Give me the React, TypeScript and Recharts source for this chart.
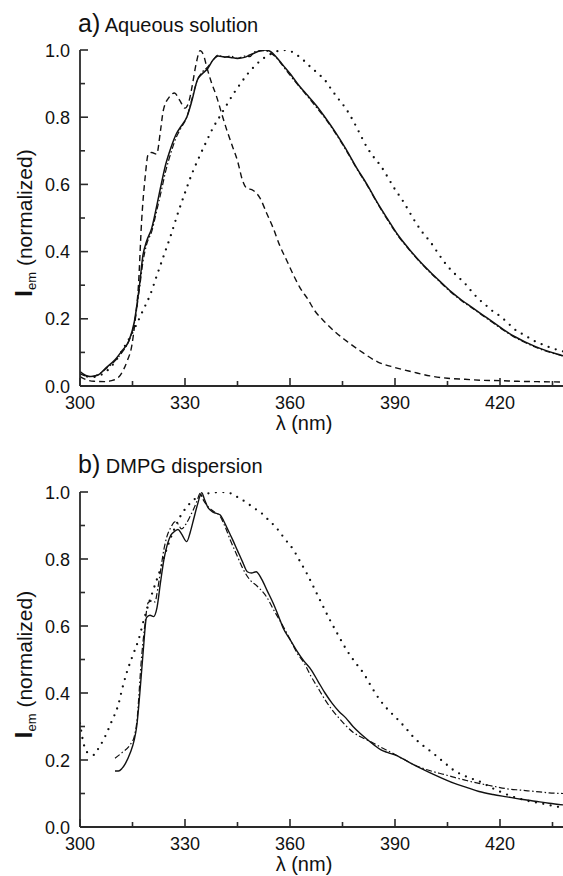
import React from 'react'
import { LineChart, Line, XAxis, YAxis } from 'recharts'

// wavelength ticks (nm) and intensity ticks
const xTicks = [300, 315, 330, 345, 360, 375, 390, 405, 420, 435]
const yTicks = [0, 0.1, 0.2, 0.3, 0.4, 0.5, 0.6, 0.7, 0.8, 0.9, 1.0]

// a) Aqueous solution
const aSolidX = [300, 301.5, 303, 305, 307.5, 310, 312, 314, 315.5, 317, 318, 319, 320.5, 322, 323, 324.5, 326, 327.5, 329, 330.5, 332, 333.5, 335, 336.5, 338, 339.5, 341, 343, 345, 347, 348.5, 350, 351.5, 353, 354.5, 356, 358, 360, 362.5, 365, 367.5, 370, 373, 376, 379, 382, 385, 388, 391, 394, 397, 400, 403, 406, 409, 412, 415, 418, 421, 424, 427, 430, 433, 436, 438]
const aSolidY = [0.043, 0.032, 0.028, 0.032, 0.055, 0.078, 0.105, 0.135, 0.19, 0.3, 0.39, 0.43, 0.47, 0.54, 0.59, 0.66, 0.71, 0.75, 0.775, 0.8, 0.85, 0.91, 0.93, 0.945, 0.97, 0.982, 0.98, 0.978, 0.975, 0.978, 0.985, 0.992, 0.998, 1.0, 0.995, 0.98, 0.955, 0.93, 0.895, 0.865, 0.835, 0.8, 0.755, 0.705, 0.65, 0.6, 0.545, 0.495, 0.447, 0.408, 0.372, 0.34, 0.31, 0.281, 0.256, 0.234, 0.212, 0.19, 0.168, 0.148, 0.132, 0.118, 0.106, 0.096, 0.09]
const aDashDotY = [0.036, 0.03, 0.028, 0.033, 0.052, 0.075, 0.1, 0.135, 0.185, 0.29, 0.37, 0.42, 0.46, 0.525, 0.57, 0.64, 0.695, 0.74, 0.77, 0.8, 0.855, 0.91, 0.935, 0.95, 0.97, 0.985, 0.978, 0.982, 0.975, 0.982, 0.98, 0.995, 0.997, 0.998, 0.99, 0.978, 0.952, 0.925, 0.893, 0.862, 0.83, 0.797, 0.752, 0.702, 0.648, 0.598, 0.543, 0.492, 0.445, 0.406, 0.37, 0.338, 0.308, 0.279, 0.254, 0.232, 0.21, 0.188, 0.166, 0.146, 0.13, 0.116, 0.104, 0.095, 0.089]
const aDashedX = [300, 302, 304, 307, 309, 311, 312.5, 313.5, 314.8, 315.7, 316.7, 317.6, 318.6, 319.5, 320.5, 321.9, 323, 323.8, 325.5, 327, 328.5, 330, 331.2, 332, 333.2, 334.3, 335.3, 336.2, 337.5, 339, 340.5, 342, 343.5, 345, 346.5, 347.5, 349.5, 351.4, 353.3, 355.2, 357, 359, 361, 363, 365, 367, 370, 373, 376, 380, 385, 390, 395, 400, 405, 410, 415, 420, 425, 430, 438]
const aDashedY = [0.028, 0.018, 0.014, 0.013, 0.016, 0.026, 0.05, 0.075, 0.12, 0.19, 0.3, 0.49, 0.62, 0.69, 0.695, 0.69, 0.76, 0.82, 0.86, 0.872, 0.85, 0.827, 0.85, 0.89, 0.96, 0.998, 0.985, 0.95, 0.905, 0.862, 0.81, 0.76, 0.715, 0.67, 0.61, 0.59, 0.582, 0.56, 0.515, 0.47, 0.42, 0.375, 0.33, 0.29, 0.26, 0.225, 0.19, 0.16, 0.135, 0.105, 0.072, 0.055, 0.042, 0.03, 0.023, 0.02, 0.017, 0.016, 0.014, 0.013, 0.012]
const aDottedX = [300, 302, 304, 306, 308, 310, 312, 314, 316, 318, 320, 322, 324, 326, 328, 330, 332, 334, 336, 338, 340, 342, 344, 346, 348, 350, 352, 354, 356, 358, 360, 362, 364, 366, 368, 370, 372, 374, 376, 378, 380, 382, 384, 386, 388, 390, 392, 394, 396, 398, 400, 402, 404, 406, 408, 410, 412, 414, 416, 418, 420, 422, 424, 426, 428, 430, 432, 434, 436, 438]
const aDottedY = [0.035, 0.028, 0.027, 0.033, 0.048, 0.072, 0.105, 0.14, 0.18, 0.225, 0.27, 0.33, 0.39, 0.45, 0.515, 0.575, 0.632, 0.68, 0.725, 0.768, 0.803, 0.838, 0.872, 0.902, 0.93, 0.953, 0.972, 0.985, 0.995, 1.0, 0.997, 0.985, 0.968, 0.948, 0.93, 0.91, 0.88, 0.852, 0.825, 0.79, 0.75, 0.71, 0.68, 0.654, 0.62, 0.585, 0.555, 0.52, 0.485, 0.455, 0.43, 0.4, 0.37, 0.345, 0.325, 0.305, 0.28, 0.258, 0.24, 0.222, 0.208, 0.19, 0.17, 0.157, 0.145, 0.133, 0.124, 0.116, 0.109, 0.103]

// b) DMPG dispersion
const bSolidX = [310, 311, 312, 313, 314.3, 315.5, 316.2, 317.1, 318.1, 319, 320, 321, 322, 323, 324, 325, 326, 327, 328, 329, 330.5, 331.5, 332.5, 333.5, 334.8, 335.5, 336.5, 338, 340, 341, 342, 343.5, 345, 346.5, 347.8, 349, 350.3, 351.9, 353.5, 355.2, 356.7, 358, 360, 362, 364, 366, 368, 370, 372, 374, 376, 378, 380, 382, 384, 386, 388, 390, 392, 395, 398, 401, 404, 407, 410, 414, 418, 422, 426, 430, 434, 438]
const bSolidY = [0.167, 0.167, 0.175, 0.19, 0.22, 0.26, 0.3, 0.4, 0.53, 0.625, 0.632, 0.628, 0.655, 0.73, 0.8, 0.845, 0.872, 0.882, 0.888, 0.875, 0.852, 0.88, 0.92, 0.96, 0.998, 0.98, 0.955, 0.94, 0.932, 0.915, 0.893, 0.86, 0.825, 0.79, 0.762, 0.758, 0.762, 0.74, 0.705, 0.668, 0.63, 0.595, 0.56, 0.525, 0.495, 0.47, 0.435, 0.4, 0.37, 0.345, 0.325, 0.3, 0.28, 0.262, 0.245, 0.23, 0.222, 0.215, 0.205, 0.188, 0.172, 0.157, 0.143, 0.13, 0.12, 0.106, 0.097, 0.09, 0.083, 0.077, 0.071, 0.066]
const bDashDotX = [310, 312, 314.3, 315.5, 316.2, 317.6, 318.5, 319.5, 320.5, 321.4, 322.2, 322.9, 324, 324.8, 326, 327.1, 328, 329, 330.3, 331.4, 332.5, 333.5, 334.3, 335.3, 336.7, 338.5, 340, 341.5, 343, 344.8, 346.5, 348.6, 350.5, 353.3, 355.5, 358.1, 360, 362, 364, 366, 368, 370, 372, 374, 376, 378, 380, 383, 386, 389, 392, 395, 398, 401, 404, 407, 410, 414, 418, 422, 426, 430, 434, 438]
const bDashDotY = [0.205, 0.222, 0.245, 0.27, 0.31, 0.508, 0.6, 0.67, 0.675, 0.672, 0.71, 0.757, 0.83, 0.866, 0.895, 0.911, 0.905, 0.89, 0.905, 0.926, 0.95, 0.975, 0.996, 0.975, 0.955, 0.94, 0.928, 0.895, 0.855, 0.812, 0.772, 0.737, 0.72, 0.687, 0.645, 0.598, 0.56, 0.52, 0.49, 0.45, 0.415, 0.38, 0.35, 0.325, 0.302, 0.283, 0.27, 0.255, 0.238, 0.222, 0.205, 0.188, 0.175, 0.165, 0.157, 0.148, 0.14, 0.13, 0.122, 0.114, 0.11, 0.106, 0.102, 0.1]
const bDottedX = [300, 301, 302.4, 304, 305, 306.7, 309, 311, 312, 313.3, 315, 316.7, 318.3, 320, 321.5, 322.9, 324.3, 325.7, 327.2, 328.6, 330.5, 332.4, 334.3, 336.2, 338, 340, 342, 344, 345.7, 348, 350, 351.4, 353.5, 356.2, 358.5, 361, 363, 364.8, 366.7, 369, 371.4, 373.8, 376.2, 378.5, 381, 383.3, 385.7, 388, 390.5, 393, 395.2, 398, 400.9, 404, 406.7, 410, 414.3, 418, 423.8, 428, 432, 436.7, 438]
const bDottedY = [0.31, 0.25, 0.22, 0.215, 0.23, 0.26, 0.314, 0.367, 0.41, 0.459, 0.51, 0.558, 0.62, 0.678, 0.725, 0.767, 0.815, 0.857, 0.895, 0.926, 0.955, 0.976, 0.988, 0.995, 0.998, 1.0, 1.0, 0.99, 0.981, 0.965, 0.95, 0.941, 0.92, 0.892, 0.86, 0.827, 0.79, 0.757, 0.717, 0.668, 0.618, 0.572, 0.528, 0.493, 0.459, 0.418, 0.379, 0.35, 0.324, 0.296, 0.269, 0.243, 0.22, 0.193, 0.17, 0.152, 0.135, 0.115, 0.09, 0.078, 0.07, 0.06, 0.058]

const pts = (xs: number[], ys: number[]) => xs.map((x, i) => ({ x, y: ys[i] }))

const FONT = '"Liberation Sans", Arial, Helvetica, sans-serif'
const AXIS = '#2a2a2a'
const INK = '#111'

// ticks point inward; major ones are longer and carry the label
const XTick = (props: any) => {
  const { x, y, payload } = props
  const major = payload.value % 30 === 0
  return (
    <g>
      <line x1={x} x2={x} y1={y} y2={y - (major ? 8 : 5)} stroke={AXIS} strokeWidth={1.6} />
      {major && (
        <text x={x} y={y + 23} textAnchor="middle" fontSize={18} fontFamily={FONT} fill={INK}>
          {payload.value}
        </text>
      )}
    </g>
  )
}

const TopTick = (props: any) => {
  const { x, y, payload } = props
  const major = payload.value % 30 === 0
  return <line x1={x} x2={x} y1={y} y2={y + (major ? 8 : 5)} stroke={AXIS} strokeWidth={1.6} />
}

const YTick = (props: any) => {
  const { x, y, payload } = props
  const major = Math.round(payload.value * 10) % 2 === 0
  return (
    <g>
      <line x1={x} x2={x + (major ? 8 : 5)} y1={y} y2={y} stroke={AXIS} strokeWidth={1.6} />
      {major && (
        <text x={x - 10} y={y + 6.5} textAnchor="end" fontSize={18} fontFamily={FONT} fill={INK}>
          {payload.value.toFixed(1)}
        </text>
      )}
    </g>
  )
}

const yLabel = (props: any) => {
  const vb = props.viewBox || { x: 0, y: 50, width: 80, height: 336 }
  const cx = 32
  const cy = vb.y + vb.height / 2 + 5
  return (
    <text
      x={cx}
      y={cy}
      transform={`rotate(-90 ${cx} ${cy})`}
      textAnchor="middle"
      fontFamily={FONT}
      fill={INK}
    >
      <tspan fontSize={24} fontWeight="bold">I</tspan>
      <tspan fontSize={13} dy={4}>em</tspan>
      <tspan fontSize={21} dy={-4}> (normalized)</tspan>
    </text>
  )
}

const xLabel = (props: any) => {
  const vb = props.viewBox || { x: 80, y: 386, width: 483, height: 54 }
  return (
    <text x={304} y={vb.y + 44} textAnchor="middle" fontSize={20} fontFamily={FONT} fill={INK}>
      λ (nm)
    </text>
  )
}

type Series = { data: { x: number; y: number }[]; dash?: string; width: number; cap?: 'round' | 'butt' }

function Panel({ series, top, height, marginTop, axisHeight }: { series: Series[]; top: number; height: number; marginTop: number; axisHeight: number }) {
  return (
    <div style={{ position: 'absolute', left: 0, top }}>
      <LineChart width={563} height={height} margin={{ top: marginTop, right: 0, bottom: 0, left: 0 }}>
        <XAxis
          dataKey="x"
          type="number"
          domain={[300, 438]}
          allowDataOverflow
          ticks={xTicks}
          interval={0}
          tickSize={0}
          tickMargin={0}
          tickLine={false}
          tick={XTick}
          height={axisHeight}
          axisLine={{ stroke: AXIS, strokeWidth: 1.8 }}
          label={{ content: xLabel }}
        />
        <XAxis
          xAxisId="top"
          orientation="top"
          dataKey="x"
          type="number"
          domain={[300, 438]}
          allowDataOverflow
          ticks={xTicks}
          interval={0}
          tickSize={0}
          tickMargin={0}
          tickLine={false}
          tick={TopTick}
          height={0}
          axisLine={{ stroke: AXIS, strokeWidth: 1.8 }}
        />
        <YAxis
          type="number"
          domain={[0, 1]}
          allowDataOverflow
          ticks={yTicks}
          interval={0}
          tickSize={0}
          tickMargin={0}
          tickLine={false}
          tick={YTick}
          width={80}
          axisLine={{ stroke: AXIS, strokeWidth: 1.8 }}
          label={{ content: yLabel }}
        />
        {series.map((s, i) => (
          <Line
            key={i}
            data={s.data}
            dataKey="y"
            type="monotone"
            stroke={INK}
            strokeWidth={s.width}
            strokeDasharray={s.dash}
            strokeLinecap={s.cap || 'butt'}
            dot={false}
            activeDot={false}
            isAnimationActive={false}
          />
        ))}
      </LineChart>
    </div>
  )
}

const DOTS = '0 7.5'
const DASH = '6 4'
const DASHDOT = '6 2.5 1.5 2.5'

export default function App() {
  const seriesA: Series[] = [
    { data: pts(aDottedX, aDottedY), dash: DOTS, width: 2.3, cap: 'round' },
    { data: pts(aDashedX, aDashedY), dash: DASH, width: 1.4 },
    { data: pts(aSolidX, aDashDotY), dash: DASHDOT, width: 1.2 },
    { data: pts(aSolidX, aSolidY), width: 1.5 },
  ]
  const seriesB: Series[] = [
    { data: pts(bDottedX, bDottedY), dash: DOTS, width: 2.3, cap: 'round' },
    { data: pts(bDashDotX, bDashDotY), dash: DASHDOT, width: 1.2 },
    { data: pts(bSolidX, bSolidY), width: 1.4 },
  ]
  return (
    <div style={{ position: 'absolute', left: 0, top: 0, width: 563, height: 876, overflow: 'hidden', background: '#fff' }}>
      <Panel series={seriesA} top={0} height={440} marginTop={50} axisHeight={54} />
      <Panel series={seriesB} top={440} height={436} marginTop={52} axisHeight={49} />
      <svg width={563} height={876} style={{ position: 'absolute', left: 0, top: 0, pointerEvents: 'none' }}>
        <text x={78} y={32} fontFamily={FONT} fill={INK}>
          <tspan fontSize={25}>a)</tspan>
          <tspan fontSize={20}> Aqueous solution</tspan>
        </text>
        <text x={78} y={473} fontFamily={FONT} fill={INK}>
          <tspan fontSize={25}>b)</tspan>
          <tspan fontSize={20}> DMPG dispersion</tspan>
        </text>
      </svg>
    </div>
  )
}
